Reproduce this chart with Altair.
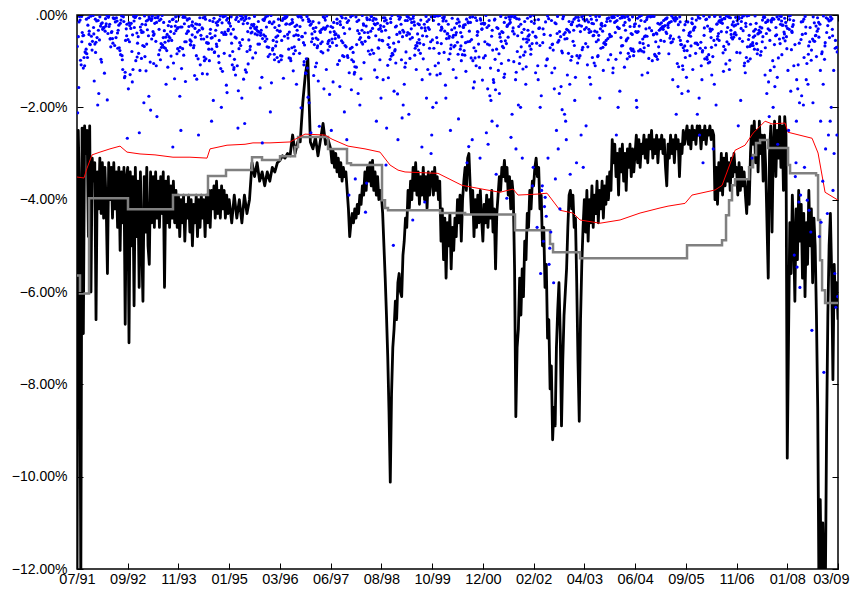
import altair as alt
import pandas as pd

# ---------------- axis text ----------------
x_labels = ["07/91", "09/92", "11/93", "01/95", "03/96", "06/97", "08/98", "10/99",
            "12/00", "02/02", "04/03", "06/04", "09/05", "11/06", "01/08", "03/09"]
y_ticks = [0, -2, -4, -6, -8, -10, -12]
y_labels = [".00%", "\u22122.00%", "\u22124.00%", "\u22126.00%", "\u22128.00%",
            "\u221210.00%", "\u221212.00%"]

# ---------------- black series (%), samples per tick interval ----------------
black_segments = [
    [-12.5, -2.5, -4.0, -12.5, -2.45, -6.9, -2.4, -3.0, -2.5, -4.8, -2.4, -6.0, -3.1, -3.6, -3.2, -6.6, -3.4, -4.2, -3.1, -4.3,
     -3.2, -4.4, -3.3, -4.1, -5.6, -3.2, -4.0, -3.3, -4.4, -3.2, -4.2, -3.4, -4.6, -3.3, -5.1, -3.4, -4.5, -3.3, -6.7, -3.5],
    [-3.3, -7.1, -3.4, -5.0, -3.5, -6.3, -3.3, -4.8, -3.6, -5.9, -3.4, -4.9, -6.2, -3.5, -4.7, -3.3, -5.0, -5.4, -3.4, -4.5,
     -3.5, -4.6, -3.4, -4.4, -3.6, -4.6, -3.5, -4.3, -3.4, -5.9, -3.6, -4.5, -3.5, -4.6, -3.7, -4.4, -3.6, -4.5, -3.8, -4.6],
    [-3.9, -4.8, -4.0, -4.5, -3.9, -4.9, -4.1, -4.4, -3.9, -4.7, -4.0, -5.0, -4.1, -4.5, -3.9, -4.8, -4.0, -4.6, -3.9, -4.4,
     -4.0, -4.8, -3.9, -4.5, -3.8, -4.6, -3.8, -4.2, -3.7, -4.4, -3.6, -4.3, -3.8, -4.4, -3.7, -4.2, -3.8, -4.4, -3.9, -4.3],
    [-4.0, -4.5, -3.9, -4.4, -4.0, -4.5, -3.9, -4.3, -4.0, -3.2, -3.5, -3.2, -3.6, -3.4, -3.7, -3.4, -3.6, -3.3, -3.4, -3.2],
    [-3.15, -3.05, -3.1, -3.0, -3.05, -2.6, -3.0, -2.75, -2.75, -1.9, -1.3, -0.95, -2.75, -2.9, -2.65, -3.05, -2.7, -2.35, -2.8, -2.7],
    [-2.9, -3.2, -2.95, -3.3, -3.0, -3.4, -3.1, -3.5, -3.2, -3.6, -3.3, -3.5, -3.4, -3.8, -4.2, -4.8, -4.5, -4.3, -4.5, -4.2,
     -4.4, -4.1, -4.3, -3.9, -4.1, -3.7, -3.9, -3.4, -3.8, -3.3, -3.6, -3.2, -3.7, -3.15, -3.8, -3.4, -3.9, -3.5, -4.0, -3.8],
    [-3.9, -4.3, -5.0, -5.7, -6.5, -7.4, -8.6, -10.12, -8.2, -7.2, -6.8, -6.2, -6.6, -5.8, -5.6, -6.0, -6.1, -5.2, -4.9, -4.4,
     -4.6, -3.8, -4.2, -3.6, -4.0, -3.3, -3.8, -3.2, -3.9, -3.4, -4.1, -3.5, -3.9, -3.3, -4.0, -3.5, -4.2, -3.4, -3.9, -3.5],
    [-3.4, -3.9, -3.3, -3.8, -3.5, -4.0, -3.6, -4.9, -4.2, -5.3, -4.4, -5.7, -4.5, -5.0, -4.3, -5.5, -4.6, -5.1, -4.4, -4.8,
     -4.0, -4.5, -3.9, -4.9, -4.0, -3.6, -3.3, -3.8, -3.1, -3.0, -3.7, -4.3, -3.8, -4.8, -4.0, -4.6, -3.9, -4.5, -3.8, -4.4],
    [-4.9, -4.1, -4.5, -3.9, -4.6, -4.0, -4.4, -3.8, -4.7, -4.2, -5.5, -4.3, -3.9, -3.5, -3.8, -3.3, -3.5, -3.15, -3.6, -3.3,
     -3.9, -3.5, -4.2, -3.6, -3.9, -5.5, -8.7, -7.2, -6.8, -5.7, -6.5, -5.5, -6.1, -4.9, -5.3, -4.3, -4.6, -3.8, -4.2, -3.6],
    [-3.7, -3.3, -3.1, -3.5, -3.3, -4.2, -3.9, -5.0, -4.6, -5.9, -5.4, -7.0, -6.6, -8.1, -7.6, -9.2, -8.5, -8.9, -7.2, -6.4,
     -5.8, -6.9, -8.9, -7.5, -6.5, -6.0, -5.5, -4.6, -3.9, -3.8, -4.2, -3.9, -4.6, -4.4, -5.8, -7.5, -8.8, -6.6, -5.4, -4.6],
    [-4.0, -4.7, -3.8, -4.9, -4.0, -4.5, -3.7, -4.6, -3.9, -4.3, -3.6, -4.5, -3.8, -4.2, -3.6, -4.4, -3.7, -4.1, -3.5, -4.0,
     -3.4, -3.8, -2.7, -3.2, -2.8, -3.5, -3.0, -3.9, -2.9, -3.4, -2.8, -3.6, -3.0, -3.8, -2.9, -3.3, -2.8, -3.5, -2.9, -3.4],
    [-3.0, -2.6, -3.2, -2.7, -3.3, -2.8, -3.0, -2.6, -3.1, -2.7, -3.2, -2.6, -2.9, -2.5, -3.1, -2.7, -3.0, -2.6, -3.2, -2.7,
     -2.9, -2.6, -3.0, -2.7, -3.3, -3.7, -2.8, -3.1, -2.6, -3.0, -2.7, -3.2, -2.6, -2.9, -2.7, -3.5, -2.8, -3.0, -2.5, -2.8],
    [-2.6, -2.4, -2.8, -2.5, -2.9, -2.4, -2.7, -2.5, -2.8, -2.4, -2.6, -2.4, -2.9, -2.5, -2.7, -2.4, -2.8, -2.5, -2.6, -2.4,
     -2.7, -2.5, -2.6, -4.0, -3.3, -4.1, -3.2, -3.8, -3.0, -3.9, -3.1, -3.7, -3.0, -3.6, -3.2, -3.8, -3.1, -3.5, -3.0, -3.4],
    [-3.3, -3.9, -3.2, -3.8, -3.3, -3.7, -3.4, -3.9, -4.3, -3.6, -4.1, -3.0, -2.4, -2.8, -2.3, -3.2, -2.5, -3.4, -2.3, -3.0,
     -2.6, -3.6, -2.6, -3.3, -4.5, -5.7, -3.0, -2.4, -4.7, -2.8, -2.3, -3.5, -2.5, -3.1, -2.2, -3.3, -2.4, -3.8, -2.2, -2.6],
    [-9.6, -7.0, -4.5, -5.6, -3.9, -4.8, -6.2, -4.2, -5.3, -3.8, -4.9, -4.1, -5.7, -4.3, -6.1, -4.5, -5.4, -3.8, -5.0, -4.2,
     -5.8, -4.4, -5.0, -6.5, -8.5, -12.5, -10.5, -12.5, -11.0, -12.5, -12.5, -9.0, -6.5, -5.0, -4.3, -5.6, -7.9, -5.4, -6.3, -5.8],
]
black_end = -6.6

# ---------------- red series (%) ----------------
red_t = [0, 0.138, 0.197, 0.296, 0.453, 0.650, 0.848, 0.986, 1.242, 1.537, 1.892, 2.227, 2.563, 2.622, 2.957,
         3.312, 3.469, 3.804, 4.199, 4.494, 4.889, 5.027, 5.342, 5.677, 5.973, 6.170, 6.328, 6.466, 7.116,
         7.589, 8.082, 8.338, 8.594, 8.693, 9.068, 9.265, 9.521, 9.777, 9.915, 10.309, 10.704, 11.098, 11.492,
         11.65, 11.985, 12.123, 12.577, 12.715, 12.971, 13.168, 13.326, 13.563, 13.700, 13.957, 14.016, 14.489,
         14.607, 14.745, 15.0]
red_v = [-3.51, -3.53, -3.32, -3.03, -2.97, -2.90, -2.84, -2.97, -3.01, -3.03, -3.08, -3.08, -3.10, -2.90, -2.82,
         -2.80, -2.77, -2.77, -2.75, -2.58, -2.60, -2.69, -2.84, -2.90, -2.97, -3.25, -3.36, -3.40, -3.43,
         -3.69, -3.79, -3.84, -3.77, -3.90, -3.88, -3.86, -4.23, -4.29, -4.44, -4.51, -4.44, -4.29, -4.18,
         -4.14, -4.08, -3.90, -3.79, -3.69, -2.93, -2.82, -2.56, -2.30, -2.36, -2.34, -2.54, -2.67,
         -2.99, -3.84, -4.01]

# ---------------- gray step series (%) ----------------
gray_t = [0, 0.059, 0.237, 1.005, 1.892, 2.582, 2.937, 3.450, 3.647, 4.002, 4.297, 4.357, 4.948, 5.322, 5.401,
          6.012, 6.071, 6.130, 7.156, 7.65, 8.634, 9.324, 9.383, 9.915, 12.024, 12.714, 12.793, 12.852, 12.911,
          12.971, 13.247, 13.326, 13.385, 13.464, 13.621, 14.016, 14.055, 14.568, 14.607, 14.647, 14.686,
          14.745, 15.0]
gray_v = [-5.64, -6.03, -3.97, -4.21, -3.90, -3.49, -3.36, -3.08, -3.14, -3.06, -2.86, -2.64, -2.90, -3.21, -3.25,
          -4.01, -4.18, -4.23, -4.29, -4.32, -4.66, -4.96, -5.14, -5.27, -4.99, -4.88, -4.34, -4.01, -3.69,
          -3.56, -3.30, -3.03, -2.77, -2.71, -2.88, -3.25, -3.43, -3.47, -4.44, -5.31, -5.96,
          -6.24, -6.24]

# ---------------- blue points (basis points), one list per tick interval ----------------
dot_segments_bp = [
    [-5, -42, -18, -96, -3, -61, -27, -133, -8, -74, -39, -12, -157, -52, -2, -88, -31, -115, -66, -9, -45, -184, -22, -71, -4, -98, -36, -57, -14, -126, -80, -6, -49, -212, -25, -63, -11, -102, -38, -7, -143, -55, -19, -84, -33, -170, -3, -69, -46, -118, -28, -92, -15, -59, -267, -40, -6, -77, -24, -108, -51, -1, -136, -35, -82, -13, -195, -47, -20, -64],
    [-31, -7, -89, -52, -145, -16, -68, -4, -110, -39, -23, -176, -58, -9, -94, -286, -44, -13, -72, -121, -29, -3, -83, -50, -206, -18, -65, -37, -138, -6, -99, -42, -11, -160, -76, -26, -55, -2, -118, -34, -90, -14, -220, -61, -47, -8, -129, -70, -20, -104, -41, -5, -150, -63, -27, -86, -255, -36, -12, -79, -49, -190, -24, -57, -1, -113, -45, -17, -97, -33],
    [-12, -64, -38, -127, -5, -81, -29, -152, -47, -9, -103, -21, -70, -230, -43, -3, -91, -58, -17, -139, -34, -74, -8, -116, -52, -26, -185, -66, -2, -95, -40, -14, -260, -78, -31, -57, -122, -6, -87, -45, -19, -168, -61, -35, -10, -108, -250, -49, -24, -83, -4, -144, -68, -37, -16, -99, -54, -200, -28, -73, -7, -131, -42, -60, -11, -89, -33, -176, -50, -22],
    [-44, -9, -76, -23, -118, -57, -3, -92, -35, -164, -15, -68, -41, -277, -6, -85, -29, -130, -52, -18, -101, -63, -1, -147, -37, -79, -12, -235, -48, -26, -110, -70, -7, -88, -33, -180, -55, -20, -96, -4, -124, -45, -14, -73, -210, -39, -61, -10, -139, -27, -82, -50, -2, -106, -36, -158, -66, -19, -93, -31, -8, -119, -58, -43, -245, -16, -75, -24, -135, -53],
    [-19, -71, -4, -108, -46, -27, -150, -62, -9, -93, -38, -201, -55, -14, -84, -31, -126, -5, -67, -44, -172, -22, -99, -58, -11, -137, -36, -77, -2, -115, -50, -241, -25, -88, -41, -16, -160, -65, -7, -104, -33, -57, -190, -20, -79, -47, -12, -131, -69, -28, -95, -3, -143, -53, -37, -255, -18, -82, -60, -8, -112, -43, -24, -178, -74, -35, -1, -97, -51, -121],
    [-33, -88, -7, -124, -51, -364, -16, -72, -40, -155, -3, -97, -60, -22, -210, -45, -113, -9, -78, -390, -29, -138, -56, -12, -101, -36, -427, -69, -18, -170, -48, -85, -4, -250, -63, -27, -119, -355, -41, -10, -92, -54, -195, -21, -76, -1, -145, -38, -66, -230, -14, -107, -49, -30, -180, -59, -6, -83, -128, -43, -24, -270, -71, -11, -99, -35, -162, -52, -19, -90],
    [-444, -499, -405, -12, -325, -60, -270, -31, -94, -8, -286, -47, -140, -22, -75, -180, -3, -109, -53, -37, -300, -16, -83, -64, -150, -6, -118, -42, -27, -215, -70, -11, -97, -55, -2, -165, -34, -80, -245, -19, -58, -128, -9, -89, -45, -195, -25, -72, -104, -14, -38, -136, -61, -5, -260, -49, -86, -20, -113, -33, -67, -171, -10, -41, -96, -28, -223, -56, -15, -78],
    [-27, -81, -6, -136, -49, -15, -96, -310, -38, -62, -4, -118, -72, -21, -180, -44, -9, -104, -57, -250, -31, -86, -13, -145, -66, -2, -320, -40, -91, -24, -127, -53, -7, -200, -77, -35, -110, -18, -60, -285, -46, -11, -99, -29, -158, -69, -3, -122, -51, -37, -225, -83, -16, -65, -141, -26, -8, -93, -43, -190, -58, -20, -114, -74, -33, -270, -48, -12, -87, -152],
    [-41, -9, -112, -397, -63, -25, -170, -85, -4, -230, -52, -135, -18, -290, -74, -33, -98, -12, -200, -57, -370, -28, -146, -80, -6, -255, -45, -120, -67, -16, -185, -310, -38, -93, -2, -162, -59, -22, -280, -105, -48, -14, -215, -76, -31, -128, -88, -8, -240, -54, -19, -175, -69, -36, -330, -101, -11, -150, -62, -27, -195, -84, -3, -265, -46, -117, -71, -20, -140, -345],
    [-52, -15, -88, -3, -140, -37, -71, -24, -205, -60, -9, -115, -46, -31, -95, -12, -170, -66, -20, -125,
     -330, -42, -415, -5, -250, -460, -83, -540, -36, -155, -380, -57, -580, -18, -230, -436, -104, -290, -29, -345, -470, -75, -8, -490, -185, -355, -48, -130, -310, -22, -420, -560, -90, -63, -1, -215, -395, -320, -40, -110, -14, -505, -260, -78, -370, -33, -160, -11, -270, -97],
    [-14, -58, -3, -97, -31, -7, -72, -42, -125, -19, -5, -64, -240, -26, -88, -11, -47, -150, -2, -35, -79, -16, -110, -53, -8, -69, -29, -180, -40, -4, -92, -22, -60, -13, -260, -37, -83, -6, -135, -49, -18, -74, -1, -104, -33, -55, -10, -200, -44, -25, -86, -9, -66, -120, -20, -38, -3, -95, -51, -15, -165, -30, -77, -6, -45, -113, -23, -62, -12, -90],
    [-8, -46, -21, -83, -3, -60, -34, -118, -12, -71, -5, -39, -200, -27, -94, -15, -55, -1, -140, -43, -67, -9, -30, -105, -18, -78, -50, -4, -170, -25, -62, -11, -88, -36, -6, -125, -48, -20, -75, -2, -99, -33, -57, -14, -215, -41, -7, -84, -28, -64, -17, -130, -52, -3, -92, -37, -10, -155, -69, -24, -45, -1, -110, -31, -80, -13, -58, -185, -22, -66],
    [-19, -64, -5, -102, -37, -11, -80, -48, -150, -26, -2, -91, -57, -14, -260, -33, -70, -8, -122, -44, -22, -195, -61, -3, -86, -39, -16, -110, -52, -290, -29, -75, -10, -135, -46, -6, -98, -35, -67, -18, -320, -41, -1, -83, -58, -24, -165, -12, -72, -49, -31, -118, -7, -95, -43, -20, -215, -63, -4, -88, -36, -140, -15, -55, -27, -106, -9, -77, -40, -180],
    [-11, -53, -2, -87, -29, -7, -66, -41, -130, -18, -4, -75, -240, -33, -95, -13, -58, -1, -112, -45, -24, -170, -69, -9, -38, -82, -15, -310, -50, -3, -104, -27, -62, -12, -145, -44, -20, -79, -6, -200, -35, -56, -16, -92, -280, -40, -8, -120, -64, -22, -47, -2, -155, -31, -73, -14, -100, -52, -26, -185, -10, -60, -37, -5, -125, -43, -84, -19, -220, -68],
    [-16, -61, -4, -98, -35, -150, -9, -72, -44, -230, -23, -85, -2, -120, -53, -31, -190, -12, -67, -40, -260, -6, -108, -49, -27, -165, -80, -14, -300, -57,
     -350, -38, -401, -120, -480, -590, -200, -683, -25, -774, -330, -633, -90, -546, -260, -423, -10, -449, -175, -380, -56, -520, -290, -140, -610, -30, -405, -230, -470, -75, -360, -195, -560, -45, -320, -430, -150, -250, -20, -390],
]
# more of the dense, shallow points per interval (basis points)
dot_extra_bp = [
    [-2, -17, -45, -8, -63, -30, -1, -92, -22, -54, -11, -38, -76, -4, -27, -110, -49, -13, -68, -3, -35, -86, -19, -58, -6, -41, -124, -24, -9, -72, -33, -15, -51, -2, -97, -28, -44, -7, -81, -20],
    [-10, -36, -3, -59, -21, -84, -6, -47, -14, -102, -29, -1, -66, -40, -18, -5, -77, -32, -53, -12, -120, -25, -8, -43, -70, -2, -34, -16, -91, -56, -4, -23, -62, -38, -9, -105, -27, -48, -13, -73],
    [-4, -52, -19, -33, -88, -7, -61, -25, -2, -44, -116, -14, -71, -37, -9, -58, -22, -95, -3, -40, -65, -17, -30, -1, -80, -48, -11, -128, -35, -55, -6, -26, -74, -15, -42, -99, -5, -63, -20, -31],
    [-15, -3, -48, -26, -79, -9, -37, -60, -1, -21, -108, -43, -12, -67, -31, -5, -90, -54, -18, -39, -2, -72, -24, -114, -46, -8, -33, -63, -14, -85, -28, -4, -51, -19, -97, -41, -10, -69, -36, -23],
    [-6, -39, -20, -71, -2, -55, -13, -94, -31, -47, -8, -64, -25, -118, -3, -42, -17, -83, -35, -58, -10, -28, -101, -1, -50, -22, -76, -14, -37, -62, -5, -89, -29, -45, -11, -126, -19, -53, -4, -68],
    [-21, -4, -66, -38, -12, -97, -49, -2, -29, -81, -16, -57, -7, -135, -34, -45, -10, -73, -25, -1, -60, -19, -112, -42, -6, -88, -31, -53, -14, -3, -70, -27, -103, -40, -9, -64, -18, -48, -125, -23],
    [-3, -44, -18, -76, -9, -58, -30, -1, -95, -37, -13, -66, -24, -118, -5, -49, -83, -20, -35, -7, -61, -28, -104, -11, -41, -2, -72, -52, -16, -140, -33, -6, -87, -26, -46, -12, -64, -21, -39, -4],
    [-12, -59, -2, -35, -84, -19, -47, -6, -71, -28, -110, -9, -41, -63, -15, -1, -93, -32, -54, -22, -4, -78, -38, -130, -17, -50, -8, -67, -26, -99, -44, -3, -60, -13, -36, -85, -20, -5, -73, -30],
    [-7, -48, -23, -91, -3, -62, -35, -140, -14, -56, -1, -79, -29, -43, -10, -115, -38, -68, -18, -5, -96, -52, -25, -160, -9, -41, -74, -2, -33, -87, -16, -58, -124, -27, -46, -4, -65, -20, -105, -37],
    [-5, -55, -28, -98, -12, -70, -3, -42, -135, -19, -61, -33, -8, -88, -47, -175, -15, -76, -1, -38, -110, -24, -59, -10, -150, -44, -4, -82, -30, -66, -17, -125, -51, -2, -93, -36, -200, -21, -64, -9],
    [-9, -42, -1, -67, -24, -88, -5, -35, -56, -14, -108, -29, -3, -73, -46, -18, -2, -61, -31, -96, -11, -50, -7, -38, -82, -21, -4, -115, -44, -16, -63, -27, -1, -54, -90, -13, -36, -6, -70, -25],
    [-4, -31, -12, -58, -1, -77, -23, -45, -8, -96, -36, -16, -2, -64, -28, -52, -10, -85, -19, -40, -5, -112, -33, -60, -14, -3, -71, -25, -47, -9, -90, -38, -18, -1, -55, -29, -78, -6, -42, -21],
    [-6, -49, -17, -82, -2, -38, -65, -11, -27, -104, -44, -4, -59, -21, -90, -33, -8, -71, -14, -52, -1, -118, -30, -46, -10, -77, -24, -3, -61, -37, -96, -15, -55, -7, -42, -130, -19, -68, -28, -5],
    [-3, -28, -57, -9, -74, -16, -40, -2, -93, -33, -51, -12, -66, -22, -5, -110, -45, -18, -81, -30, -1, -62, -37, -14, -99, -48, -7, -71, -25, -135, -41, -4, -55, -20, -86, -11, -34, -64, -2, -47],
    [-8, -52, -21, -96, -3, -70, -35, -160, -13, -58, -1, -84, -42, -120, -17, -64, -6, -105, -29, -48, -190, -11, -76, -38, -2, -92, -55, -24, -140, -9, -67, -31, -230, -15, -45, -4, -110, -60, -26, -80],
]

# ---------------- tables ----------------
black_rows = [{"t": k + j / len(seg), "v": v} for k, seg in enumerate(black_segments) for j, v in enumerate(seg)]
black_rows.append({"t": 15.0, "v": black_end})
black_df = pd.DataFrame(black_rows)
red_df = pd.DataFrame({"t": red_t, "v": red_v})
gray_df = pd.DataFrame({"t": gray_t, "v": gray_v})

PHI = 0.6180339887  # spreads the day positions of each interval's points evenly but unordered
dot_rows = []
for k, (seg_a, seg_b) in enumerate(zip(dot_segments_bp, dot_extra_bp)):
    seg = seg_a + seg_b
    for j, bp in enumerate(seg):
        dot_rows.append({"t": k + ((j + 1) * PHI) % 1.0, "v": bp / 100.0})
dots_df = pd.DataFrame(dot_rows)

FONT = "Liberation Sans"
x_vals = list(range(len(x_labels)))
last_x = x_vals[-1]
X = alt.Scale(domain=[0, 15], nice=False, zero=False)
Y = alt.Scale(domain=[-12, 0], nice=False, zero=False)

x_expr = "[" + ",".join("'%s'" % s for s in x_labels) + "][datum.value]"
y_expr = "[" + ",".join("'%s'" % s for s in y_labels) + "][-datum.value/2]"


def tick_axis(orient, values):
    return alt.Axis(orient=orient, offset=-6, tickSize=6, ticks=True, labels=False, domain=False,
                    grid=False, title=None, values=values, tickColor="black", tickWidth=1, zindex=1)


black = alt.Chart(black_df).mark_line(
    color="black", strokeWidth=2.8, clip=True, strokeJoin="round"
).encode(
    x=alt.X("t:Q", scale=X, axis=tick_axis("bottom", x_vals)),
    y=alt.Y("v:Q", scale=Y, axis=tick_axis("left", y_ticks)),
)

gray = alt.Chart(gray_df).mark_line(
    color="#808080", strokeWidth=2.5, clip=True, interpolate="step-after"
).encode(
    x=alt.X("t:Q", scale=X, axis=tick_axis("top", x_vals)),
    y=alt.Y("v:Q", scale=Y, axis=tick_axis("right", y_ticks)),
)

red = alt.Chart(red_df).mark_line(color="#ff0000", strokeWidth=1, clip=True).encode(
    x=alt.X("t:Q", scale=X, axis=None),
    y=alt.Y("v:Q", scale=Y, axis=None),
)

dots = alt.Chart(dots_df).mark_circle(color="#0000ff", size=10, opacity=1, clip=True).encode(
    x=alt.X("t:Q", scale=X, axis=alt.Axis(
        orient="bottom", values=x_vals, labelExpr=x_expr, ticks=False, tickSize=0, domain=False,
        grid=False, title=None, labelPadding=3, labelFont=FONT, labelFontSize=14.5,
        labelColor="black", labelFlush=False,
        labelAlign={"condition": {"test": "datum.value == %d" % last_x, "value": "right"}, "value": "center"},
        labelOffset={"condition": {"test": "datum.value == %d" % last_x, "value": 11}, "value": 0})),
    y=alt.Y("v:Q", scale=Y, axis=alt.Axis(
        orient="left", values=y_ticks, labelExpr=y_expr, ticks=False, tickSize=0, domain=False,
        grid=False, title=None, labelPadding=10, labelFont=FONT, labelFontSize=14,
        labelColor="black", labelFlush=False)),
)

chart = alt.layer(black, gray, red, dots).resolve_axis(
    x="independent", y="independent"
).properties(
    width=761, height=554,
    padding={"left": 69, "top": 7, "right": 12, "bottom": 17},
    autosize=alt.AutoSizeParams(type="none"),
).configure_view(stroke="black", strokeWidth=1.5)

chart.save("out.html", embed_options={"renderer": "svg", "actions": False})
